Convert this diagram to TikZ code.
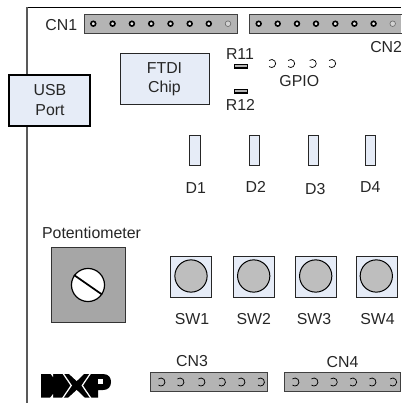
\documentclass[tikz,border=0pt]{standalone}
\usepackage{fontspec}
\setmainfont{Liberation Sans}
\definecolor{pale}{HTML}{E6ECF7}
\definecolor{barg}{HTML}{B4B4B4}
\definecolor{potg}{HTML}{A6A6A6}
\definecolor{btng}{HTML}{BEBEBE}
\tikzset{
  lbl/.style={inner sep=0pt,font=\fontsize{11.9pt}{14.4pt}\selectfont,align=center,text=black!85},
  panel/.style={draw=black!85,line width=0.75pt,fill=pale},
  bar/.style={draw=black!75,line width=0.75pt,fill=barg},
  hole/.style={draw=black,line width=1.2pt,fill=barg!30},
  thinhole/.style={draw=black!60,line width=0.45pt,fill=barg!60},
  openhole/.style={draw=black,line width=0.55pt},
  res/.style={draw=black,line width=1.1pt,fill=barg},
  btn/.style={draw=black,line width=0.75pt,fill=btng},
}
\newcommand{\openh}[2]{\draw[openhole] ([shift={(-2.6,-3.06)}]#1,#2) arc[start angle=130,end angle=-130,radius=3pt];}
\begin{document}
\begin{tikzpicture}[x=0.75pt,y=-0.75pt]
\useasboundingbox (0,0) rectangle (401,403);
% board edges
\coordinate (tl) at (27,7.5);
\coordinate (tr) at (401,7.5);
\coordinate (bl) at (27,403);
\draw[black,line width=0.8pt] (tl) -- (tr);
\draw[black!65,line width=1pt] (tl) -- (bl);
% USB
\draw[draw=black,line width=2.1pt,fill=pale] (9,75) rectangle (90,126);
\node[lbl] (usbt) at (50,100) {USB\\Port};
% FTDI
\draw[panel] (120.3,54) rectangle (209,104);
\node[lbl] (ftdi) at (164.5,79) {FTDI\\Chip};
% CN1
\draw[bar] (84.7,14.5) rectangle (237.5,33.3);
\node[lbl,anchor=east] (cn1) at (77.5,25) {CN1};
\foreach \x in {93.3,112.6,131.9,151.2,170.5,189.7,208.8} {\draw[hole] (\x,23.7) circle[radius=1.8pt];}
\draw[thinhole] (228,23.7) circle[radius=2.1pt];
% CN2
\fill[barg] (249.3,14.5) rectangle (401,33.3);
\draw[black!75,line width=0.75pt] (401.5,14.5) -- (249.3,14.5) -- (249.3,33.3) -- (401.5,33.3);
\foreach \x in {258.7,277.7,297,316,335.3,354.4,373.6} {\draw[hole] (\x,23.7) circle[radius=1.8pt];}
\draw[thinhole] (392.7,23.7) circle[radius=2.1pt];
\node[lbl,anchor=west] (cn2) at (370,47.5) {CN2};
% R11 R12
\node[lbl] (r11) at (240,54.5) {R11};
\draw[res] (234.5,64.5) rectangle (247.5,68.2);
\draw[res] (234.5,89.5) rectangle (247.5,93);
\node[lbl] (r12) at (240.5,105) {R12};
% GPIO
\foreach \x in {271.7,290.7,312.3,331.7} {\openh{\x}{63.5}}
\node[lbl] (gpio) at (299.3,81.5) {GPIO};
% LEDs
\foreach \x/\n/\ly/\lx in {189.7/D1/187.8/195.7,249/D2/187.3/255.7,308.3/D3/188.6/315.3,365/D4/187.3/370.3}{
  \draw[panel] (\x,135.4) rectangle ++(10.4,30.2);
  \node[lbl] (\n) at (\lx,\ly) {\n};
}
% Potentiometer
\node[lbl] (pot) at (91.5,232.5) {Potentiometer};
\draw[draw=black!80,line width=0.75pt,fill=potg] (51,247.7) rectangle (125.5,322);
\draw[draw=black,line width=0.9pt,fill=white] (88,285) circle[radius=12.4pt];
\draw[black,line width=1.3pt] (74,275) -- (102,294.5);
% Switches
\foreach \x/\n/\lx/\cx in {170.7/SW1/192/191,233.3/SW2/253.7/253.7,295/SW3/314/315.7,356/SW4/377.5/376.3}{
  \draw[panel] (\x,256.7) rectangle ++(41,40.5);
  \draw[btn] (\cx,276) circle[radius=12.1pt];
  \node[lbl] (\n) at (\lx,319) {\n};
}
% CN3 CN4
\node[lbl] (cn3) at (192,361.5) {CN3};
\draw[bar] (150.5,372) rectangle (267,391);
\foreach \x in {161,180,201,221.5,241,260.5} {\openh{\x}{382}}
\node[lbl] (cn4) at (342.5,362) {CN4};
\draw[bar] (284.5,372) rectangle (400.3,391);
\foreach \x in {295,314,333.3,352.7,372,392.7} {\openh{\x}{382}}
% NXP logo
\fill[black] (41,374) -- (103,374) .. controls (109,374) and (111,378) .. (111,382) .. controls (111,387) and (108,390) .. (103,390) -- (98,390) -- (98,397.5) -- (41,397.5) -- cycle;
\fill[white] (68,373) -- (85,373) -- (76.7,381) -- cycle;
\fill[white] (68,398) -- (85,398) -- (76.7,390) -- cycle;
\fill[white] (62,373) -- (63.5,373) -- (72,385.5) -- (63.5,398) -- (62,398) -- (70.5,385.5) -- cycle;
\fill[white] (90,373) -- (91.5,373) -- (83,385.5) -- (91.5,398) -- (90,398) -- (81.5,385.5) -- cycle;
\fill[white] (50,373) -- (53,373) -- (53,377) -- cycle;
\fill[white] (50,398) -- (53,398) -- (53,394) -- cycle;
\fill[white] (98,379) rectangle (103,384);
\end{tikzpicture}
\end{document}
